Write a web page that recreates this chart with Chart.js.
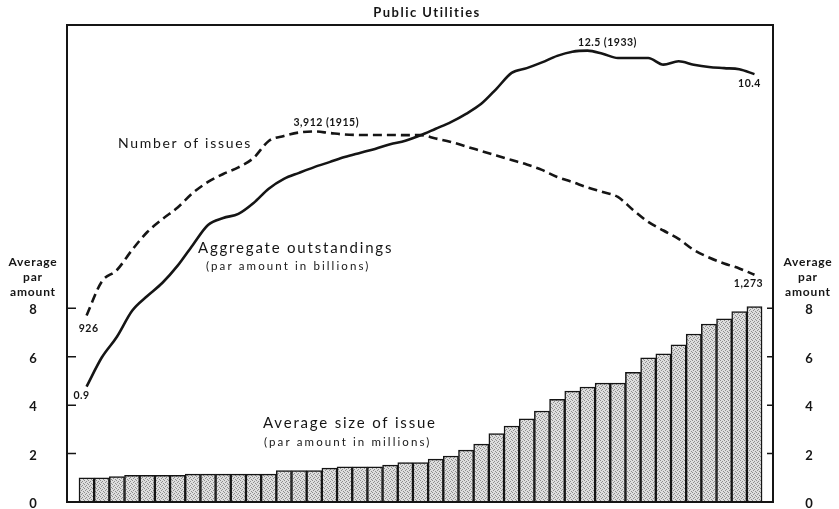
<!DOCTYPE html>
<html>
<head>
<meta charset="utf-8">
<script src="https://cdn.jsdelivr.net/npm/chart.js@4.4.1/dist/chart.umd.min.js"></script>
<style>
  html, body { margin: 0; padding: 0; background: #fff; }
  #wrap { width: 839px; height: 509px; }
</style>
</head>
<body>
<div id="wrap"><canvas id="chart" width="839" height="509"></canvas></div>
<script>
// years covered, one bar each
const years = [1900, 1901, 1902, 1903, 1904, 1905, 1906, 1907, 1908, 1909,
               1910, 1911, 1912, 1913, 1914, 1915, 1916, 1917, 1918, 1919,
               1920, 1921, 1922, 1923, 1924, 1925, 1926, 1927, 1928, 1929,
               1930, 1931, 1932, 1933, 1934, 1935, 1936, 1937, 1938, 1939,
               1940, 1941, 1942, 1943, 1944];

// average size of issue, par amount in millions (bars)
const avgSize = [1.0, 1.0, 1.05, 1.1, 1.1, 1.1, 1.1, 1.15, 1.15, 1.15,
                 1.15, 1.15, 1.15, 1.3, 1.3, 1.3, 1.4, 1.45, 1.45, 1.45,
                 1.52, 1.63, 1.63, 1.77, 1.9, 2.14, 2.39, 2.83, 3.14, 3.44,
                 3.76, 4.24, 4.58, 4.75, 4.91, 4.91, 5.36, 5.95, 6.12, 6.49,
                 6.94, 7.35, 7.56, 7.86, 8.07];

// aggregate outstandings, par amount in billions (solid line, ratio scale)
const aggregate = [0.9, 1.13, 1.33, 1.63, 1.83, 2.03, 2.32, 2.73, 3.19, 3.37,
                   3.48, 3.79, 4.24, 4.58, 4.8, 5.02, 5.22, 5.43, 5.61, 5.79,
                   6.0, 6.17, 6.44, 6.78, 7.14, 7.62, 8.24, 9.27, 10.5, 10.9,
                   11.4, 12.0, 12.4, 12.5, 12.2, 11.8, 11.8, 11.8, 11.2, 11.5,
                   11.2, 11.0, 10.9, 10.8, 10.4];

// number of issues outstanding (dashed line, ratio scale)
const issues = [926, 1207, 1322, 1547, 1780, 1970, 2157, 2417, 2634, 2804,
                2952, 3179, 3632, 3776, 3882, 3912, 3866, 3820, 3807, 3807,
                3807, 3800, 3800, 3703, 3604, 3478, 3358, 3242, 3129, 3021,
                2895, 2740, 2634, 2523, 2435, 2342, 2116, 1926, 1801, 1686,
                1547, 1458, 1391, 1338, 1273];

const sizeTicks = [0, 2, 4, 6, 8];

const FONT = 'Lato, "DejaVu Sans", sans-serif';
const INK = '#151515';

const canvas = document.getElementById('chart');
const ctx0 = canvas.getContext('2d');

function stipple() {
  const c = document.createElement('canvas');
  c.width = 4; c.height = 4;
  const g = c.getContext('2d');
  g.fillStyle = '#dedede';
  g.fillRect(0, 0, 4, 4);
  g.fillStyle = '#8e8e8e';
  g.fillRect(0, 0, 1, 1);
  g.fillRect(2, 1, 1, 1);
  g.fillRect(1, 2, 1, 1);
  g.fillRect(3, 3, 1, 1);
  return ctx0.createPattern(c, 'repeat');
}

function points(values) {
  return years.map((yr, i) => ({ x: yr, y: values[i] }));
}

function text(ctx, str, x, y, font, spacing, align) {
  ctx.font = font;
  ctx.letterSpacing = (spacing || 0) + 'px';
  ctx.textAlign = align || 'left';
  ctx.textBaseline = 'middle';
  ctx.fillText(str, x, y);
}

const notes = {
  id: 'notes',
  afterDraw(chart) {
    const { ctx, chartArea: a, scales } = chart;
    ctx.save();
    ctx.fillStyle = INK;
    ctx.strokeStyle = INK;

    // frame
    ctx.lineWidth = 2;
    ctx.strokeRect(a.left, a.top, a.right - a.left, a.bottom - a.top);

    // inward tick marks and labels on both sides
    ctx.lineWidth = 1.5;
    sizeTicks.forEach(v => {
      const y = scales.y.getPixelForValue(v);
      ctx.beginPath();
      ctx.moveTo(a.left, y); ctx.lineTo(a.left + 9, y);
      ctx.moveTo(a.right - 6, y); ctx.lineTo(a.right, y);
      ctx.stroke();
      text(ctx, String(v), 33, y + 2, 'bold 13px ' + FONT, 0, 'center');
      text(ctx, String(v), 809, y + 2, 'bold 13px ' + FONT, 0, 'center');
    });

    // title
    text(ctx, 'Public Utilities', 427, 13, 'bold 13px ' + FONT, 1.5, 'center');

    // axis captions
    const y8 = scales.y.getPixelForValue(8);
    [33, 808].forEach(cx => {
      text(ctx, 'Average', cx, y8 - 46, 'bold 12px ' + FONT, 0.8, 'center');
      text(ctx, 'par', cx, y8 - 31, 'bold 12px ' + FONT, 0.8, 'center');
      text(ctx, 'amount', cx, y8 - 16, 'bold 12px ' + FONT, 0.8, 'center');
    });

    // series captions
    text(ctx, 'Number of issues', 118, 143, '14px ' + FONT, 1.7);
    text(ctx, 'Aggregate outstandings', 198, 248, '15px ' + FONT, 1.8);
    text(ctx, '(par amount in billions)', 206, 266, '11.5px ' + FONT, 2.1);
    text(ctx, 'Average size of issue', 263, 423, '15px ' + FONT, 1.8);
    text(ctx, '(par amount in millions)', 264, 442, '11.5px ' + FONT, 2.1);

    // value labels anchored on the line ends and peaks
    const xs = scales.x, yS = scales.yS, yN = scales.yN;
    const last = years.length - 1;
    const small = 'bold 10.5px ' + FONT;
    text(ctx, '0.9', xs.getPixelForValue(years[0]) - 5, yS.getPixelForValue(aggregate[0]) + 9, small, 0.5, 'center');
    text(ctx, '926', xs.getPixelForValue(years[0]) + 2, yN.getPixelForValue(issues[0]) + 13, small, 0.5, 'center');
    text(ctx, '3,912 (1915)', xs.getPixelForValue(1915) + 12, yN.getPixelForValue(3912) - 9, small, 0.5, 'center');
    text(ctx, '12.5 (1933)', xs.getPixelForValue(1933) + 20, yS.getPixelForValue(12.5) - 8, small, 0.5, 'center');
    text(ctx, '10.4', xs.getPixelForValue(years[last]) - 5, yS.getPixelForValue(aggregate[last]) + 9, small, 0.5, 'center');
    text(ctx, '1,273', xs.getPixelForValue(years[last]) - 6, yN.getPixelForValue(issues[last]) + 9, small, 0.5, 'center');

    ctx.restore();
  }
};

new Chart(canvas, {
  type: 'bar',
  data: {
    datasets: [
      {
        type: 'line',
        data: points(aggregate),
        yAxisID: 'yS',
        borderColor: INK,
        borderWidth: 2.6,
        pointRadius: 0,
        cubicInterpolationMode: 'monotone',
        order: 0
      },
      {
        type: 'line',
        data: points(issues),
        yAxisID: 'yN',
        borderColor: INK,
        borderWidth: 2.6,
        borderDash: [9, 5],
        pointRadius: 0,
        cubicInterpolationMode: 'monotone',
        order: 0
      },
      {
        type: 'bar',
        data: points(avgSize),
        yAxisID: 'y',
        backgroundColor: stipple(),
        borderColor: INK,
        borderWidth: 1.5,
        categoryPercentage: 1,
        barPercentage: 1,
        order: 1
      }
    ]
  },
  options: {
    responsive: false,
    animation: false,
    devicePixelRatio: 1,
    layout: { padding: { top: 25, bottom: 7, left: 0, right: 0 } },
    plugins: {
      legend: { display: false },
      tooltip: { enabled: false },
      title: { display: false }
    },
    scales: {
      x: {
        type: 'linear',
        display: false,
        offset: false,
        min: 1898.71,
        max: 1945.22
      },
      y: {
        position: 'left',
        min: 0,
        max: 19.7,
        afterBuildTicks: s => { s.ticks = sizeTicks.map(v => ({ value: v })); },
        afterFit: s => { s.width = 67; },
        grid: { display: false, drawTicks: false },
        border: { display: false },
        ticks: { display: false }
      },
      yR: {
        position: 'right',
        min: 0,
        max: 19.7,
        afterBuildTicks: s => { s.ticks = sizeTicks.map(v => ({ value: v })); },
        afterFit: s => { s.width = 66; },
        grid: { display: false, drawTicks: false },
        border: { display: false },
        ticks: { display: false }
      },
      yS: {
        type: 'logarithmic',
        display: false,
        min: 0.3645,
        max: 15.28
      },
      yN: {
        type: 'logarithmic',
        display: false,
        min: 214.8,
        max: 9006
      }
    }
  },
  plugins: [notes]
});
</script>
</body>
</html>
